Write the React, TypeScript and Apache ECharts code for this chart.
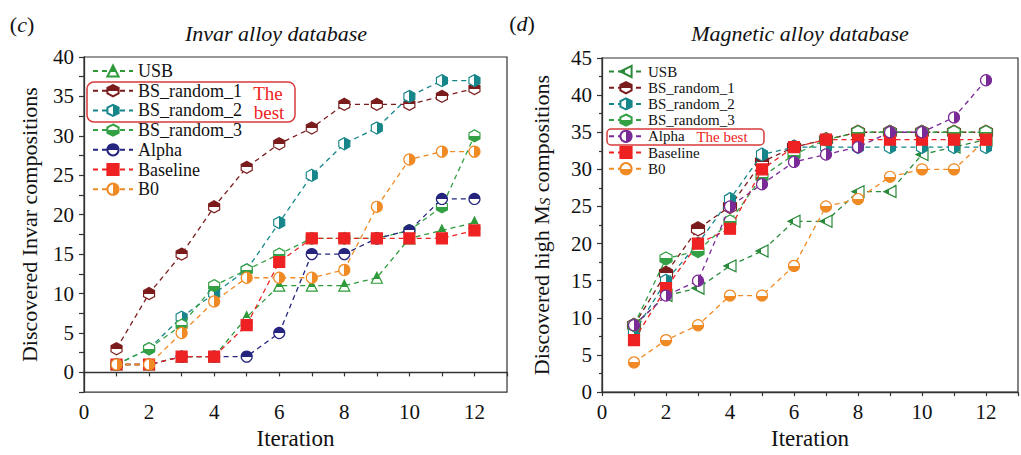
import React, { useEffect, useRef } from "react";
import * as echarts from "echarts";

const iterations = [1, 2, 3, 4, 5, 6, 7, 8, 9, 10, 11, 12];

// Panel (c) Invar alloy database
const invarUSB = [1, 1, 2, 2, 7, 11, 11, 11, 12, 17, 18, 19];
const invarBS1 = [3, 10, 15, 21, 26, 29, 31, 34, 34, 34, 35, 36];
const invarBS2 = [1, 3, 7, 10, 13, 19, 25, 29, 31, 35, 37, 37];
const invarBS3 = [1, 3, 6, 11, 13, 15, 17, 17, 17, 18, 21, 30];
const invarAlpha = [1, 1, 2, 2, 2, 5, 15, 15, 17, 18, 22, 22];
const invarBaseline = [1, 1, 2, 2, 6, 14, 17, 17, 17, 17, 17, 18];
const invarB0 = [1, 1, 5, 9, 12, 12, 12, 13, 21, 27, 28, 28];

// Panel (d) Magnetic alloy database
const magUSB = [9, 13, 14, 17, 19, 23, 23, 27, 27, 32, 33, 34];
const magBS1 = [9, 16, 22, 25, 31, 33, 34, 35, 35, 35, 35, 35];
const magBS2 = [8, 15, 20, 26, 32, 33, 33, 33, 33, 33, 33, 33];
const magBS3 = [9, 18, 19, 23, 29, 32, 34, 35, 35, 35, 35, 35];
const magAlpha = [9, 13, 15, 25, 28, 31, 32, 33, 35, 35, 37, 42];
const magBaseline = [7, 14, 20, 22, 30, 33, 34, 34, 34, 34, 34, 34];
const magB0 = [4, 7, 9, 13, 13, 17, 25, 26, 29, 30, 30, 34];

const seriesNames = ["USB", "BS_random_1", "BS_random_2", "BS_random_3", "Alpha", "Baseline", "B0"];
const ZW = "\u200b";

const SERIF = "Liberation Serif";
const HEX = "path://M0,-10L8.66,-5L8.66,5L0,10L-8.66,5L-8.66,-5Z";

type Dir = "top" | "bottom" | "right" | "full";
function fill(dir: Dir, c: string, stop = 0.5): any {
  if (dir === "full") return c;
  const horiz = dir === "right";
  const first = dir === "top" ? c : "#fff";
  const second = dir === "top" ? "#fff" : c;
  return {
    type: "linear",
    x: 0,
    y: 0,
    x2: horiz ? 1 : 0,
    y2: horiz ? 0 : 1,
    colorStops: [
      { offset: 0, color: first },
      { offset: stop, color: first },
      { offset: stop, color: second },
      { offset: 1, color: second },
    ],
  };
}

function mk(
  name: string,
  values: number[],
  color: string,
  symbol: string,
  size: number | number[],
  dir: Dir,
  axis: number,
  z: number,
  rotate = 0,
  stop = 0.5
) {
  return {
    type: "line",
    name,
    xAxisIndex: axis,
    yAxisIndex: axis,
    data: values.map((v, i) => [iterations[i], v]),
    symbol,
    symbolSize: size,
    symbolRotate: rotate,
    showAllSymbol: true,
    z,
    itemStyle: { color: fill(dir, color, stop), borderColor: color, borderWidth: 1.2 },
    lineStyle: { color, width: 1.3, type: [5, 4] },
    emphasis: { disabled: true },
  };
}

const C = {
  usbL: "#2f9a3a",
  usbR: "#2a8a3a",
  bs1: "#7b1c1c",
  bs2: "#16868a",
  bs3: "#33a043",
  alphaL: "#25257f",
  alphaR: "#7a2a96",
  base: "#ee2222",
  b0: "#f08a24",
};

export default function App() {
  const ref = useRef<HTMLDivElement>(null);
  useEffect(() => {
    if (!ref.current) return;
    const chart = echarts.init(ref.current, null, { renderer: "svg" });

    const axisCommon = {
      axisLine: { show: true, lineStyle: { color: "#333", width: 1.3 } },
      axisTick: { show: true, inside: false, lineStyle: { color: "#333", width: 1.2 } },
      splitLine: { show: false },
      axisLabel: { color: "#111", fontSize: 21, fontFamily: SERIF },
      nameTextStyle: { color: "#111", fontSize: 23, fontFamily: SERIF },
    };

    const evenLabel = (v: number) => (v % 2 === 0 && v <= 12 ? String(v) : "");

    const series = [
      mk("USB", invarUSB, C.usbL, "triangle", 11, "top", 0, 2, 0, 0.6),
      mk("BS_random_1", invarBS1, C.bs1, HEX, [11, 12], "top", 0, 3),
      mk("BS_random_2", invarBS2, C.bs2, HEX, [11, 12], "right", 0, 4),
      mk("BS_random_3", invarBS3, C.bs3, HEX, [11, 12], "bottom", 0, 5),
      mk("Alpha", invarAlpha, C.alphaL, "circle", 11, "top", 0, 6),
      mk("Baseline", invarBaseline, C.base, "rect", 11, "full", 0, 7),
      mk("B0", invarB0, C.b0, "circle", 11, "right", 0, 8),
      mk("USB" + ZW, magUSB, C.usbR, "triangle", 12, "top", 1, 2, 90, 0.45),
      mk("BS_random_1" + ZW, magBS1, C.bs1, HEX, [13, 14], "top", 1, 3),
      mk("BS_random_2" + ZW, magBS2, C.bs2, HEX, [11, 13], "right", 1, 4),
      mk("BS_random_3" + ZW, magBS3, C.bs3, HEX, [12, 13], "bottom", 1, 5),
      mk("Alpha" + ZW, magAlpha, C.alphaR, "circle", 11, "right", 1, 8),
      mk("Baseline" + ZW, magBaseline, C.base, "rect", 11, "full", 1, 7),
      mk("B0" + ZW, magB0, C.b0, "circle", 11, "bottom", 1, 6),
    ];

    const textEl = (x: number, y: number, text: string, size: number, opts: any = {}) => ({
      type: "text",
      x,
      y,
      z: 100,
      style: {
        text,
        fontSize: size,
        fontFamily: SERIF,
        fill: "#111",
        align: "center",
        verticalAlign: "middle",
        ...opts,
      },
    });

    chart.setOption({
      animation: false,
      backgroundColor: "#fff",
      textStyle: { fontFamily: SERIF },
      grid: [
        { left: 84, top: 57, width: 423, height: 340, show: true, borderColor: "#333", borderWidth: 1.2, backgroundColor: "transparent" },
        { left: 602, top: 58, width: 426, height: 343, show: true, borderColor: "#333", borderWidth: 1.2, backgroundColor: "transparent" },
      ],
      xAxis: [
        {
          ...axisCommon,
          gridIndex: 0,
          type: "value",
          min: 0,
          max: 13,
          interval: 1,
          axisTick: { ...axisCommon.axisTick, length: 4 },
          axisLabel: { ...axisCommon.axisLabel, margin: 9, formatter: evenLabel },
          name: "Iteration",
          nameLocation: "middle",
          nameGap: 29,
        },
        {
          ...axisCommon,
          gridIndex: 1,
          type: "value",
          min: 0,
          max: 13,
          interval: 1,
          axisTick: { ...axisCommon.axisTick, length: 4 },
          axisLabel: { ...axisCommon.axisLabel, margin: 9, formatter: evenLabel },
          name: "Iteration",
          nameLocation: "middle",
          nameGap: 29,
        },
      ],
      yAxis: [
        {
          ...axisCommon,
          gridIndex: 0,
          type: "value",
          min: -2.5,
          max: 40,
          interval: 2.5,
          axisTick: { ...axisCommon.axisTick, length: 5 },
          axisLabel: { ...axisCommon.axisLabel, margin: 10, formatter: (v: number) => (v >= 0 && v % 5 === 0 ? String(v) : "") },
          name: "Discovered Invar compositions",
          nameLocation: "middle",
          nameRotate: 90,
          nameGap: 44,
          nameTextStyle: { ...axisCommon.nameTextStyle, fontSize: 22 },
        },
        {
          ...axisCommon,
          gridIndex: 1,
          type: "value",
          min: 0,
          max: 45,
          interval: 5,
          axisTick: { ...axisCommon.axisTick, length: 5 },
          minorTick: { show: true, splitNumber: 2, length: 3, lineStyle: { color: "#333", width: 1.2 } },
          axisLabel: { ...axisCommon.axisLabel, margin: 10 },
          name: "{m|Discovered high M}{s|S}{m| compositions}",
          nameLocation: "middle",
          nameRotate: 90,
          nameGap: 50,
          nameTextStyle: {
            ...axisCommon.nameTextStyle,
            rich: {
              m: { fontSize: 22, fontFamily: SERIF, color: "#111", lineHeight: 22, verticalAlign: "top" },
              s: { fontSize: 15, fontStyle: "italic", fontFamily: SERIF, color: "#111", lineHeight: 22, verticalAlign: "top", padding: [7, 0, 0, 0] },
            },
          },
        },
      ],
      legend: [
        {
          data: seriesNames,
          orient: "vertical",
          left: 92,
          top: 62,
          padding: 0,
          itemWidth: 40,
          itemHeight: 14,
          itemGap: 1.7,
          selectedMode: false,
          textStyle: { fontSize: 18, fontFamily: SERIF, color: "#111" },
        },
        {
          data: seriesNames.map((n) => n + ZW),
          orient: "vertical",
          left: 608,
          top: 64,
          padding: 0,
          itemWidth: 34,
          itemHeight: 14,
          itemGap: 1.2,
          selectedMode: false,
          textStyle: { fontSize: 15, fontFamily: SERIF, color: "#111" },
        },
      ],
      graphic: [
        textEl(22, 24, "({i|c})", 22, { rich: { i: { fontStyle: "italic", fontSize: 22, fontFamily: SERIF, color: "#111" } } }),
        textEl(276, 33, "Invar alloy database", 22, { fontStyle: "italic" }),
        textEl(522, 23, "({i|d})", 22, { rich: { i: { fontStyle: "italic", fontSize: 22, fontFamily: SERIF, color: "#111" } } }),
        textEl(800, 33, "Magnetic alloy database", 22, { fontStyle: "italic" }),
        {
          type: "rect",
          z: 100,
          shape: { x: 87, y: 82, width: 208, height: 40, r: 7 },
          style: { fill: "none", stroke: "#d83a3a", lineWidth: 1.5 },
        },
        textEl(268, 93, "The", 19, { fill: "#ee2222" }),
        textEl(269, 112, "best", 19, { fill: "#ee2222" }),
        {
          type: "rect",
          z: 100,
          shape: { x: 607, y: 129, width: 157, height: 16, r: 4 },
          style: { fill: "none", stroke: "#d83a3a", lineWidth: 1.5 },
        },
        textEl(722, 137, "The best", 15, { fill: "#ee2222" }),
      ],
      series,
    });
    return () => chart.dispose();
  }, []);
  return (
    <div
      ref={ref}
      style={{ position: "absolute", left: 0, top: 0, width: 1021, height: 455, overflow: "hidden", background: "#fff" }}
    />
  );
}
